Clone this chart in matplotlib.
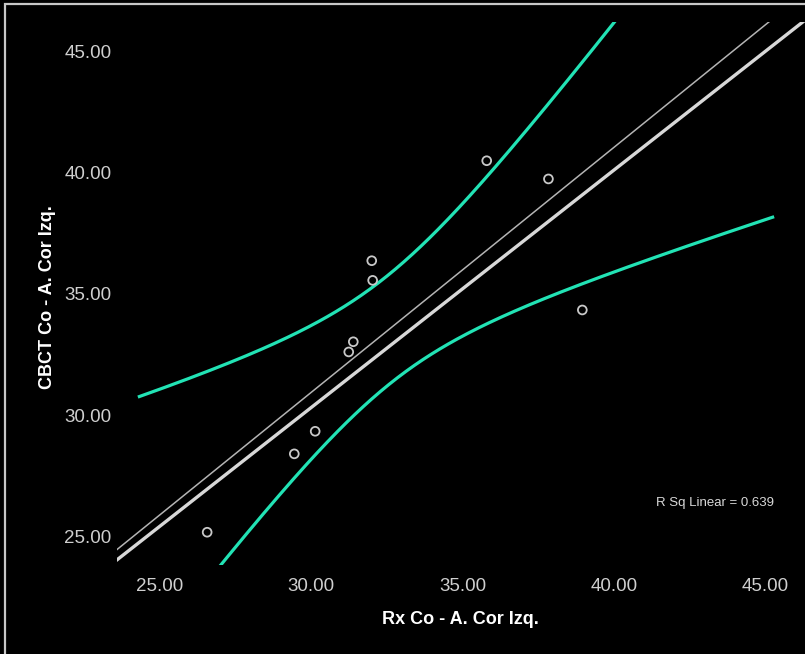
import numpy as np
import matplotlib
matplotlib.use("Agg")
import matplotlib.pyplot as plt
from matplotlib.patches import Rectangle

# ---- data ----
rx = [35.80, 37.84, 32.00, 32.03, 31.39, 31.24, 38.96, 30.13, 29.44, 26.56]
cbct = [40.48, 39.73, 36.36, 35.55, 33.02, 32.60, 34.33, 29.33, 28.40, 25.17]
x_ticks = [25, 30, 35, 40, 45]
y_ticks = [25, 30, 35, 40, 45]
r_sq_label = 0.639
ref_intercept = 0.97
ref_slope = 0.978
ci_x_range = [24.27, 45.30]
t_crit = 2.306  # t(0.975, df=8)

x = np.array(rx)
y = np.array(cbct)
n = len(x)
slope, intercept = np.polyfit(x, y, 1)
yhat_pts = intercept + slope * x
s = np.sqrt(np.sum((y - yhat_pts) ** 2) / (n - 2))
sxx = np.sum((x - x.mean()) ** 2)

W, H = 805, 654
fig = plt.figure(figsize=(W / 100, H / 100), dpi=100, facecolor="black")
plt.rcParams['font.family'] = ['Liberation Sans', 'DejaVu Sans']

ax_left, ax_right = 117 / W, 1.0
ax_bottom, ax_top = 1 - 564.5 / H, 1 - 21.7 / H
ax = fig.add_axes([ax_left, ax_bottom, ax_right - ax_left, ax_top - ax_bottom])
ax.set_facecolor("black")
xlim = (23.58, 46.32)
ylim = (23.84, 46.21)
ax.set_xlim(*xlim)
ax.set_ylim(*ylim)

# CI of the mean
xc = np.linspace(ci_x_range[0], ci_x_range[1], 300)
yc = intercept + slope * xc
half = t_crit * s * np.sqrt(1 / n + (xc - x.mean()) ** 2 / sxx)
cyan = "#22e3b5"
ax.plot(xc, yc + half, color=cyan, lw=2.3, solid_capstyle="butt", zorder=2)
ax.plot(xc, yc - half, color=cyan, lw=2.3, solid_capstyle="butt", zorder=2)

# lines across the whole axis
xl = np.array(xlim)
ax.plot(xl, ref_intercept + ref_slope * xl, color="#d8d8d8", lw=2.4, zorder=3)
ax.plot(xl, intercept + slope * xl, color="#b4b4b4", lw=1.1, zorder=3)

# points
ax.scatter(x, y, s=40, facecolors="none", edgecolors="#c8c8c8", linewidths=1.3, zorder=4)

for sp in ax.spines.values():
    sp.set_visible(False)
ax.set_xticks(x_ticks)
ax.set_yticks(y_ticks)
ax.set_xticklabels([f"{v:.2f}" for v in x_ticks])
ax.set_yticklabels([f"{v:.2f}" for v in y_ticks])
ax.tick_params(axis="both", length=0, labelcolor="#cfcfcf", labelsize=13.5)
ax.tick_params(axis="x", pad=10)
ax.tick_params(axis="y", pad=4)

fig.text(460 / W, 1 - 620 / H, "Rx Co - A. Cor Izq.", color="white", fontsize=13,
         fontweight="bold", ha="center", va="center")
fig.text(48 / W, 1 - 297 / H, "CBCT Co - A. Cor Izq.", color="white", fontsize=13,
         fontweight="bold", ha="center", va="center", rotation=90)
fig.text(715 / W, 1 - 503 / H, f"R Sq Linear = {r_sq_label:.3f}", color="#d8d8d8", fontsize=9.5,
         ha="center", va="center")

# outer frame
fig.patches.append(Rectangle((5 / W, -0.1), 1.2, 1.1 - 4.5 / H, transform=fig.transFigure,
                             fill=False, edgecolor="#c8c8c8", lw=1.6, zorder=0))

fig.savefig("out.png", dpi=100, facecolor="black")
